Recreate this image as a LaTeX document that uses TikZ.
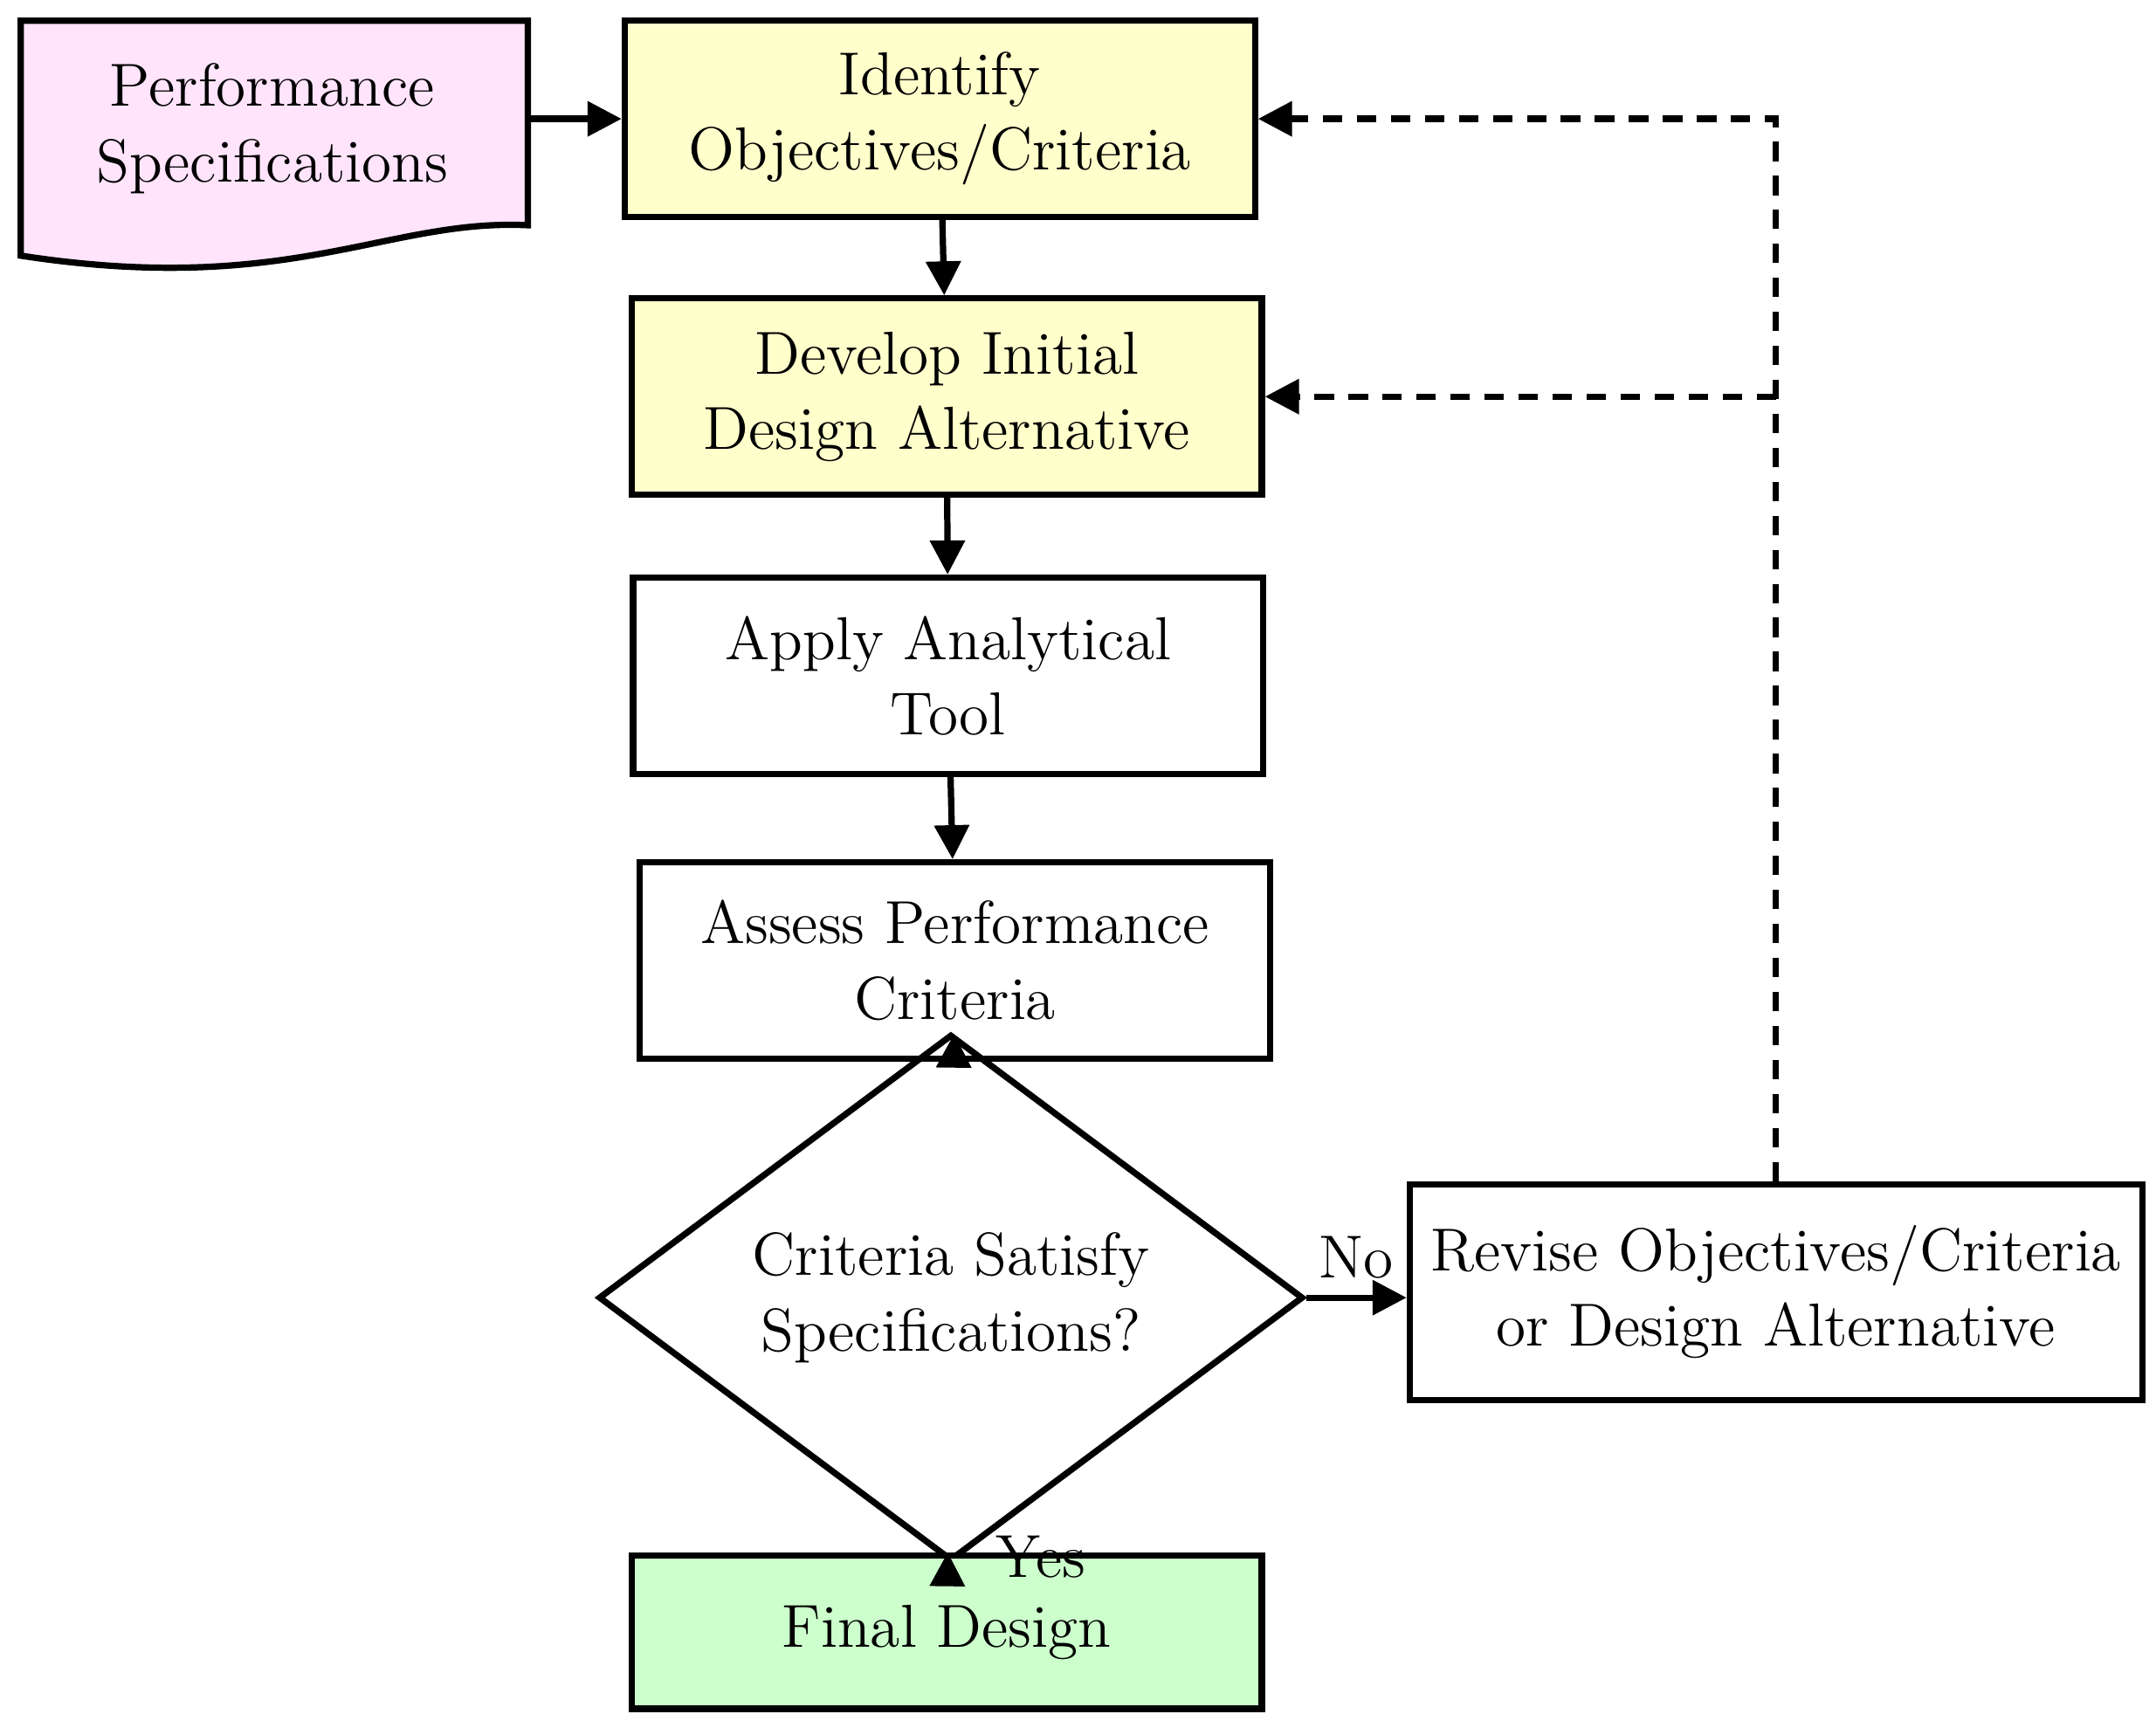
\documentclass[tikz,border=0pt]{standalone}
\usepackage{tikz}
\usetikzlibrary {arrows.meta,
                 positioning,
                 shapes.geometric}
\definecolor{specpink}{HTML}{FFE4FC}
\definecolor{stepyellow}{HTML}{FFFFCC}
\definecolor{donegreen}{HTML}{CCFFCC}
\tikzset{
        base/.style={draw, line width=1.3pt, align=center,
                     font=\fontsize{12.5}{15.5}\selectfont},
        proc/.style={base, rectangle, minimum width=4.56cm, minimum height=1.42cm},
        test/.style={base, diamond, minimum width=5.1cm, minimum height=2.46cm,
                     inner sep=0pt},
        myarrow/.style={-{Triangle[length=7pt,width=7pt]}, line width=1.3pt},
        backarrow/.style={myarrow, dashed, dash pattern=on 4pt off 3pt},
 }
\begin{document}
\begin{tikzpicture}
    \useasboundingbox (0,0) rectangle (15.6,-12.45);

    % document shape
    \draw[line width=1.3pt, fill=specpink] (0.15,-0.15) -- (3.82,-0.15) -- (3.82,-1.63)
        .. controls (2.8,-1.58) and (2.1,-2.15) .. (0.15,-1.85) -- cycle;
    \node[base, draw=none] (spec) at (1.97,-0.93) {Performance\\Specifications};

    \node[proc, fill=stepyellow] (ident) at (6.80,-0.86) {Identify\\Objectives/Criteria};
    \node[proc, fill=stepyellow] (dev) at (6.85,-2.87) {Develop Initial\\Design Alternative};
    \node[proc] (apply) at (6.86,-4.89) {Apply Analytical\\Tool};
    \node[proc] (assess) at (6.91,-6.95) {Assess Performance\\Criteria};
    \node[test] (sat) at (6.88,-9.39) {Criteria Satisfy\\Specifications?};
    \node[proc, minimum width=5.3cm, minimum height=1.56cm] (rev) at (12.85,-9.35)
        {Revise Objectives/Criteria\\or Design Alternative};
    \node[proc, minimum height=1.11cm, fill=donegreen] (final) at (6.85,-11.81) {Final Design};

    \coordinate (top) at (12.85,-0.86);
    \coordinate (mid) at (12.85,-2.87);

    \draw[myarrow] (3.82,-0.86) -- (ident);
    \draw[myarrow] (ident) -- (dev);
    \draw[myarrow] (dev) -- (apply);
    \draw[myarrow] (apply) -- (assess);
    \draw[myarrow] (assess) -- (sat);
    \draw[myarrow] (sat.east) -- node[above, base, draw=none] {No} (rev.west |- sat.east);
    \draw[myarrow] (sat) -- node[right, base, draw=none, xshift=6pt] {Yes} (final);
    \draw[backarrow] (rev.north) -- (top) -- (ident.east);
    \draw[backarrow] (mid) -- (dev.east);

\end{tikzpicture}
\end{document}
